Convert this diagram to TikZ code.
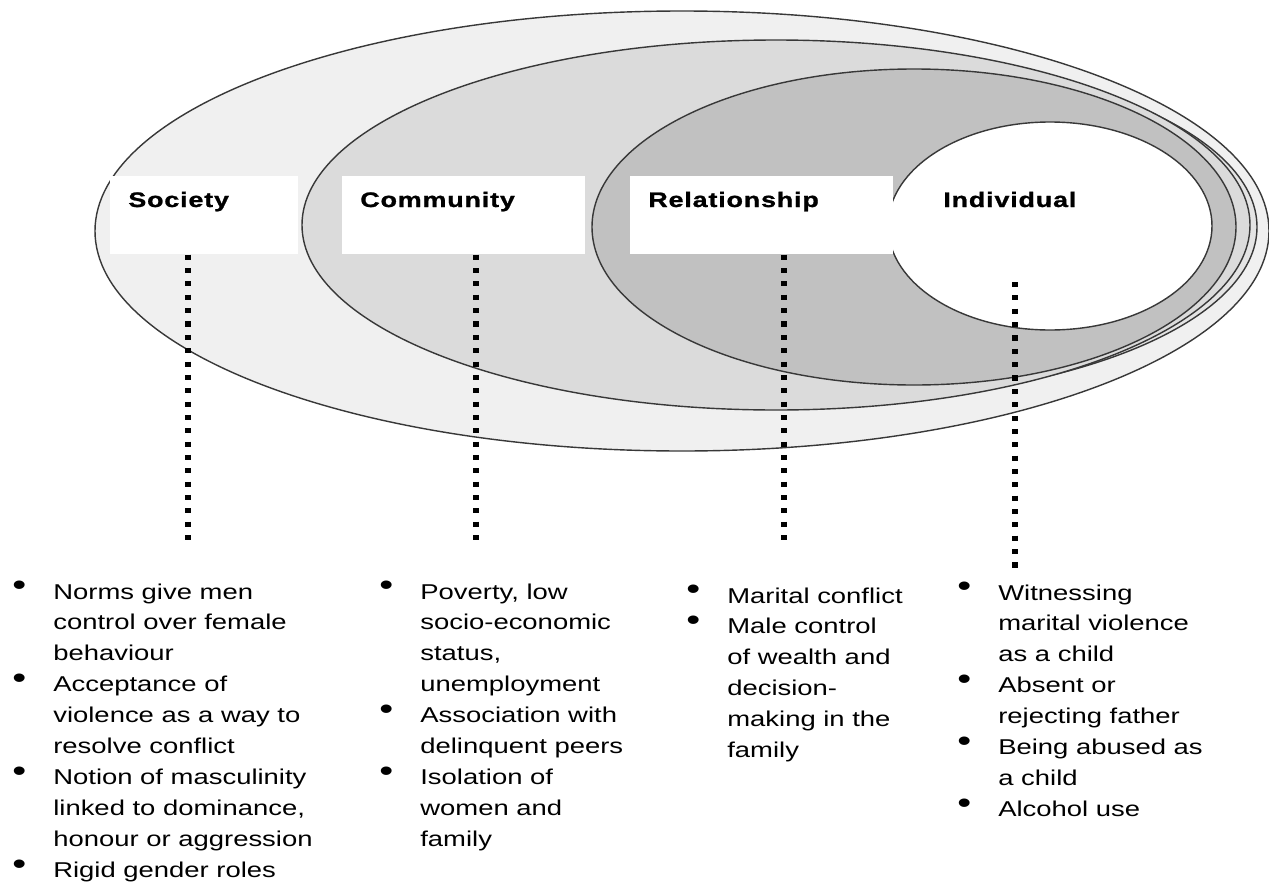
\documentclass[tikz,border=0pt]{standalone}
\usepackage{fontspec}
\setmainfont{Liberation Sans}
\newfontfamily\listfont[FakeStretch=1.28]{Liberation Sans}
\newfontfamily\headfont[FakeStretch=1.28,LetterSpace=4,
    BoldFeatures={FakeBold=1.2}]{Liberation Sans}
\usetikzlibrary{positioning}

\definecolor{societygray}{gray}{0.94}
\definecolor{bandgray}{gray}{0.895}
\definecolor{communitygray}{gray}{0.86}
\definecolor{relationgray}{gray}{0.755}
\definecolor{edgegray}{gray}{0.22}

\tikzstyle{ring} = [draw=edgegray, line width=0.8pt]
\tikzstyle{labelbox} = [rectangle, fill=white, inner sep=0pt, anchor=north west]
\tikzstyle{heading} = [anchor=base west, inner sep=0pt,
    font=\headfont\bfseries\fontsize{11.95pt}{14pt}\selectfont]
\tikzstyle{risks} = [anchor=base west, inner sep=0pt,
    font=\listfont\fontsize{12.2pt}{17.64pt}\selectfont]
\tikzstyle{dotline} = [line width=3.4pt, dash pattern=on 2.9pt off 4.7pt]

\newcommand\bul{\raisebox{2.1pt}{\scalebox{1.45}{\textbullet}}}

\begin{document}
\begin{tikzpicture}[x=0.02cm, y=-0.02cm]
\useasboundingbox (0,0) rectangle (1269,886);

% nested levels
\filldraw[ring, fill=societygray] (682,231) ellipse [x radius=587, y radius=220];
\filldraw[ring, fill=bandgray] (840,227) ellipse [x radius=417, y radius=172];
\filldraw[ring, fill=communitygray] (776,225) ellipse [x radius=474, y radius=185];
\filldraw[ring, fill=relationgray] (914,227) ellipse [x radius=322, y radius=158];
\filldraw[ring, fill=white] (1050,226) ellipse [x radius=162, y radius=104];

% label boxes
\node[labelbox, minimum width=3.76cm, minimum height=1.56cm] (socbox) at (110,176) {};
\node[labelbox, minimum width=4.86cm, minimum height=1.56cm] (combox) at (342,176) {};
\node[labelbox, minimum width=5.26cm, minimum height=1.56cm] (relbox) at (630,176) {};

\node[heading] (soc) at (128,207) {Society};
\node[heading] (com) at (360,207) {Community};
\node[heading] (rel) at (648,207) {Relationship};
\node[heading] (ind) at (943,207) {Individual};

% risk factor lists
\node[risks] (soclist) at (12,599) {\begin{tabular}[t]{@{}p{0.82cm}@{}l@{}}
\bul & Norms give men\\
 & control over female\\
 & behaviour\\
\bul & Acceptance of\\
 & violence as a way to\\
 & resolve conflict\\
\bul & Notion of masculinity\\
 & linked to dominance,\\
 & honour or aggression\\
\bul & Rigid gender roles
\end{tabular}};
\node[risks] (comlist) at (379,599) {\begin{tabular}[t]{@{}p{0.82cm}@{}l@{}}
\bul & Poverty, low\\
 & socio-economic\\
 & status,\\
 & unemployment\\
\bul & Association with\\
 & delinquent peers\\
\bul & Isolation of\\
 & women and\\
 & family
\end{tabular}};
\node[risks] (rellist) at (686,603) {\begin{tabular}[t]{@{}p{0.82cm}@{}l@{}}
\bul & Marital conflict\\
\bul & Male control\\
 & of wealth and\\
 & decision-\\
 & making in the\\
 & family
\end{tabular}};
\node[risks] (indlist) at (957,600) {\begin{tabular}[t]{@{}p{0.82cm}@{}l@{}}
\bul & Witnessing\\
 & marital violence\\
 & as a child\\
\bul & Absent or\\
 & rejecting father\\
\bul & Being abused as\\
 & a child\\
\bul & Alcohol use
\end{tabular}};

% dotted links
\coordinate (socend) at (188,540);
\coordinate (comend) at (476,540);
\coordinate (relend) at (784,540);
\coordinate (indtop) at (1015,282);
\coordinate (indend) at (1015,568);
\draw[dotline] (socbox.south -| socend) -- (socend);
\draw[dotline] (combox.south -| comend) -- (comend);
\draw[dotline] (relbox.south -| relend) -- (relend);
\draw[dotline] (indtop) -- (indend);

\end{tikzpicture}
\end{document}
